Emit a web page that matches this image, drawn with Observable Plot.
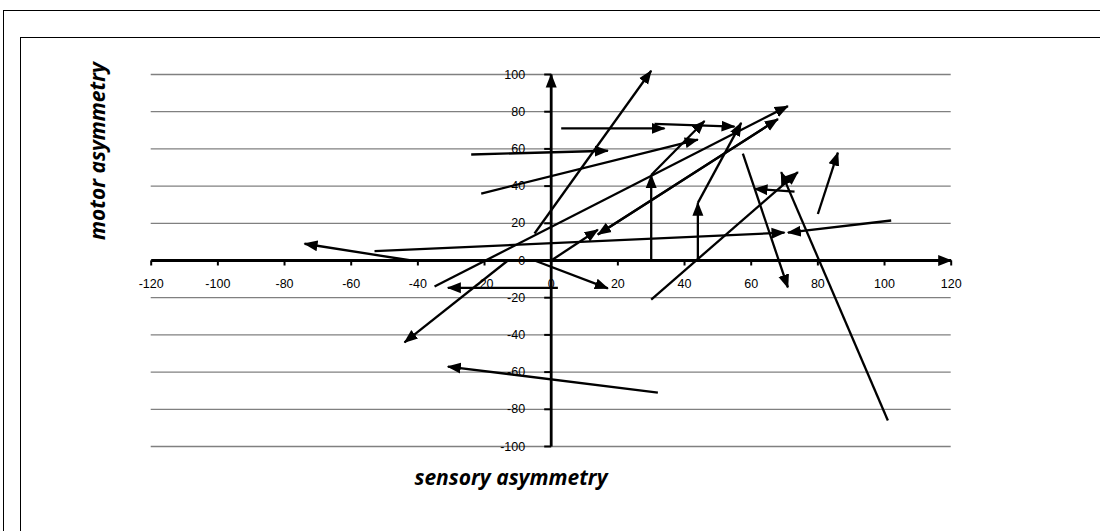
<!DOCTYPE html>
<html>
<head>
<meta charset="utf-8">
<script src="https://cdn.jsdelivr.net/npm/d3@7"></script>
<script src="https://cdn.jsdelivr.net/npm/@observablehq/plot@0.6"></script>
<style>
  html, body { margin: 0; padding: 0; background: #fff; }
  #wrap { position: relative; width: 1100px; height: 531px; overflow: hidden; }
  .frame { position: absolute; border: 1px solid #000; width: 1300px; height: 700px; }
  #chart { position: absolute; left: 0; top: 0; }
  .title { position: absolute; font-family: "Open Sans", "DejaVu Sans", sans-serif; font-weight: bold; font-style: italic; font-size: 21px; color: #000; white-space: nowrap; }
  #ytitle { left: 97px; top: 151px; transform: translate(-50%, -50%) rotate(-90deg); }
  #xtitle { left: 511px; top: 477px; transform: translate(-50%, -50%); }
</style>
</head>
<body>
<div id="wrap">
  <div class="frame" style="left:3px;top:10px;"></div>
  <div class="frame" style="left:20px;top:37px;"></div>
  <div id="chart"></div>
  <div class="title" id="ytitle">motor asymmetry</div>
  <div class="title" id="xtitle">sensory asymmetry</div>
</div>
<script>
// Arrow start points (sensory, motor) and end points
const fromX = [-42, -53, 102, -21, -24,  3, 31, -5, -35, -13,   2, -5,  0, 68, 14,  32, 30, 30, 44, 44, 57.5, 101, 30, 73, 80];
const fromY = [  0,   5, 21.5, 36,  57, 71, 73.5, 14.5, -14,  0, -14.7, 0, 0, 76, 14, -71,  0, 46,  0, 31, 57.5, -86, -21, 37, 25];
const toX   = [-74,  70,  71,  44,  17, 34, 55, 30,  71, -44, -31, 17, 14, 14, 68, -31, 30, 46, 44, 57, 71,  69, 74, 61, 86];
const toY   = [  9,  15,  15,  65,  59, 71, 72, 102, 83, -44, -14.7, -15, 16.5, 14, 76, -57, 46, 75, 31, 74, -14.5, 47.5, 47.5, 38.5, 58];

const xTicks = [-120, -100, -80, -60, -40, -20, 0, 20, 40, 60, 80, 100, 120];
const yTicks = [-100, -80, -60, -40, -20, 0, 20, 40, 60, 80, 100];
const xDomain = [-120, 120];
const yDomain = [-100, 100];

const arrows = fromX.map((d, i) => ({x1: fromX[i], y1: fromY[i], x2: toX[i], y2: toY[i]}));
const axes = [
  {x1: xDomain[0], y1: 0, x2: xDomain[1], y2: 0},
  {x1: 0, y1: yDomain[0], x2: 0, y2: yDomain[1]}
];

const tickDown = { draw(ctx) { ctx.moveTo(0, 0); ctx.lineTo(0, 5); } };
const tickLeft = { draw(ctx) { ctx.moveTo(0, 0); ctx.lineTo(-7, 0); } };

const chart = Plot.plot({
  width: 1100,
  height: 531,
  marginLeft: 150.7,
  marginRight: 149.3,
  marginTop: 74,
  marginBottom: 85,
  x: {domain: xDomain, axis: null},
  y: {domain: yDomain, axis: null},
  style: {background: "transparent", fontFamily: "'Liberation Sans', Arial, sans-serif", fontSize: "12.5px", color: "#000"},
  marks: [
    Plot.ruleY(yTicks, {x1: xDomain[0], x2: xDomain[1], stroke: "#808080", strokeWidth: 1.3}),
    Plot.text(yTicks, {x: 0, y: d => d, text: d => String(d), textAnchor: "end", dx: -26, fill: "#000"}),
    Plot.text(xTicks, {x: d => d, y: 0, text: d => String(d), dy: 23, fill: "#000"}),
    Plot.link(axes, {x1: "x1", y1: "y1", x2: "x2", y2: "y2", stroke: "#000", strokeWidth: 2.8, markerEnd: "arrow"}),
    Plot.dot(xTicks, {x: d => d, y: 0, symbol: tickDown, stroke: "#000", strokeWidth: 2, fill: "none", r: 3}),
    Plot.dot(yTicks, {x: 0, y: d => d, symbol: tickLeft, stroke: "#000", strokeWidth: 2, fill: "none", r: 3}),
    Plot.link(arrows, {x1: "x1", y1: "y1", x2: "x2", y2: "y2", stroke: "#000", strokeWidth: 2.3, markerEnd: "arrow"})
  ]
});

// Turn Plot's open chevron markers into filled triangles (Excel-style arrowheads)
d3.select(chart).selectAll("marker")
  .attr("viewBox", "-14 -6 15 12")
  .attr("markerUnits", "userSpaceOnUse")
  .attr("markerWidth", 15)
  .attr("markerHeight", 12)
  .attr("refX", -1)
  .attr("refY", 0)
  .attr("fill", "#000")
  .attr("stroke", "none")
  .selectAll("path")
  .attr("d", "M-14,-5.5L0,0L-14,5.5Z")
  .attr("fill", "#000")
  .attr("stroke", "none");

document.getElementById("chart").appendChild(chart);
</script>
</body>
</html>
